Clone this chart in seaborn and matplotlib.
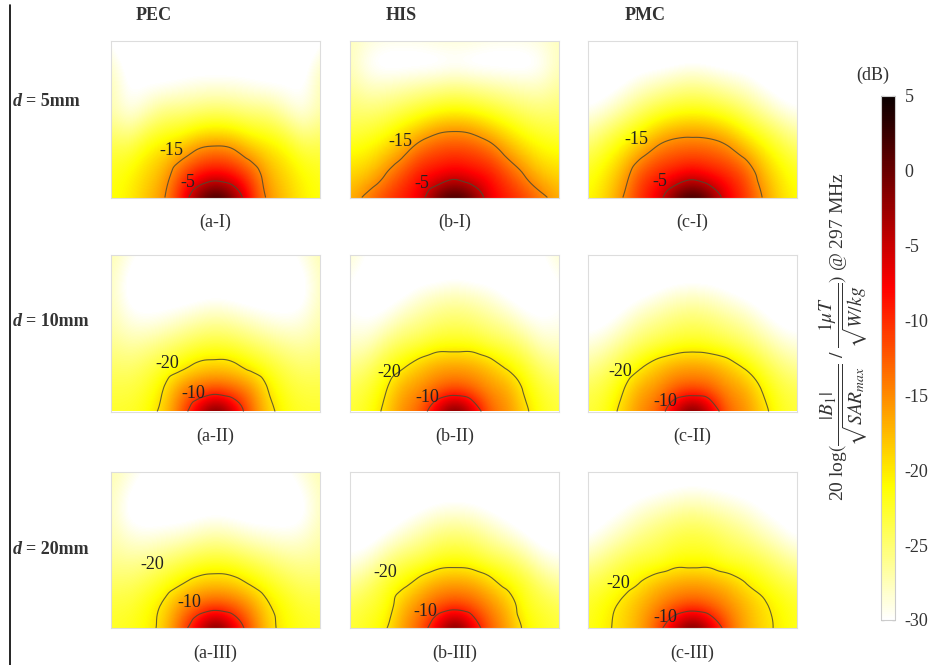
import matplotlib

matplotlib.use('Agg')
import matplotlib.pyplot as plt
import matplotlib.tri as mtri
import numpy as np
import seaborn as sns

# dB maps: 8 rows (top -> bottom) x 7 columns (left edge -> centre),
# the right half mirrors the left half
pec_5 = [
    [-30.0, -32.0, -32.0, -32.0, -32.0, -32.0, -32.0],
    [-28.0, -31.0, -31.0, -31.0, -31.0, -31.0, -31.0],
    [-27.0, -30.5, -30.0, -30.0, -29.5, -29.0, -29.0],
    [-27.0, -29.5, -28.0, -26.0, -26.0, -25.5, -25.0],
    [-25.0, -26.5, -24.0, -22.5, -22.0, -20.5, -20.0],
    [-23.0, -23.0, -20.5, -19.0, -17.0, -14.0, -13.0],
    [-22.0, -21.0, -19.0, -17.0, -11.5, -8.5, -7.3],
    [-21.5, -20.5, -18.0, -15.5, -9.0, -0.5, 4.5],
]
his_5 = [
    [-27.5, -28.5, -29.0, -29.0, -29.0, -28.5, -28.5],
    [-27.5, -30.0, -31.0, -31.0, -31.0, -31.0, -30.5],
    [-26.5, -28.0, -28.0, -27.5, -27.0, -26.5, -26.0],
    [-25.0, -25.5, -25.0, -24.0, -23.0, -22.0, -21.5],
    [-23.5, -23.0, -22.0, -20.0, -18.0, -16.0, -15.3],
    [-21.0, -20.5, -18.5, -16.0, -12.5, -11.0, -10.5],
    [-19.0, -18.0, -15.0, -11.5, -8.5, -8.0, -6.5],
    [-17.0, -14.0, -11.0, -9.0, -7.0, 0.5, 4.0],
]
pmc_5 = [
    [-32.0, -32.0, -32.0, -32.0, -32.0, -32.0, -32.0],
    [-32.0, -32.0, -31.5, -31.0, -31.0, -30.5, -30.0],
    [-31.5, -31.0, -30.0, -28.5, -27.5, -26.5, -26.0],
    [-30.0, -29.0, -27.0, -25.0, -23.5, -22.5, -22.0],
    [-27.0, -25.0, -23.0, -21.0, -18.5, -17.0, -16.5],
    [-24.0, -22.0, -19.5, -16.5, -13.5, -12.3, -12.0],
    [-22.0, -20.0, -17.0, -11.5, -9.5, -8.5, -6.8],
    [-21.0, -19.0, -15.0, -10.0, -7.0, 0.5, 4.5],
]
pec_10 = [
    [-27.0, -29.0, -30.5, -31.0, -31.0, -31.0, -31.0],
    [-27.5, -30.5, -31.5, -31.5, -31.5, -31.5, -31.5],
    [-27.5, -30.5, -31.0, -31.0, -31.0, -30.5, -30.0],
    [-27.0, -29.0, -29.5, -29.0, -28.0, -27.0, -26.5],
    [-26.0, -27.0, -26.5, -25.5, -24.5, -23.5, -23.0],
    [-24.5, -25.0, -24.0, -22.5, -21.0, -19.0, -18.5],
    [-23.5, -23.5, -22.5, -20.0, -15.0, -13.5, -12.5],
    [-22.5, -22.5, -21.5, -18.5, -13.0, -4.8, 2.0],
]
his_10 = [
    [-28.0, -30.0, -31.0, -31.0, -31.0, -31.0, -31.0],
    [-29.5, -31.0, -31.5, -31.5, -31.0, -31.0, -30.5],
    [-30.0, -31.0, -31.0, -30.0, -28.5, -27.5, -27.0],
    [-29.5, -30.0, -29.0, -27.0, -26.0, -25.0, -24.5],
    [-28.0, -28.0, -25.5, -24.0, -23.5, -22.0, -22.0],
    [-26.0, -25.0, -22.5, -20.5, -18.0, -16.5, -16.0],
    [-24.0, -23.0, -20.5, -16.5, -15.5, -13.5, -12.5],
    [-23.0, -22.0, -19.0, -15.0, -13.0, -4.8, 2.0],
]
pmc_10 = [
    [-32.0, -32.0, -32.0, -32.0, -32.0, -32.0, -32.0],
    [-32.0, -32.0, -32.0, -32.0, -31.5, -31.0, -31.0],
    [-32.0, -31.5, -31.0, -30.0, -29.0, -28.0, -27.5],
    [-31.0, -30.5, -29.0, -27.0, -26.0, -25.0, -24.5],
    [-29.0, -28.0, -26.0, -24.5, -23.5, -22.5, -22.0],
    [-26.5, -25.0, -23.0, -20.5, -18.0, -16.5, -16.0],
    [-24.0, -23.0, -20.3, -16.5, -15.5, -13.0, -12.5],
    [-23.0, -22.0, -18.5, -15.0, -13.0, -4.8, 2.0],
]
pec_20 = [
    [-27.0, -28.5, -30.0, -31.0, -31.0, -31.0, -31.0],
    [-27.5, -30.0, -31.5, -31.5, -31.5, -31.5, -31.5],
    [-27.5, -30.5, -31.0, -31.0, -31.0, -30.5, -30.0],
    [-27.0, -28.5, -29.0, -28.5, -28.0, -27.0, -26.5],
    [-26.0, -26.5, -26.0, -25.0, -24.0, -23.0, -22.5],
    [-24.5, -24.5, -23.5, -22.0, -20.3, -18.5, -18.0],
    [-23.0, -23.0, -21.5, -19.5, -15.5, -13.0, -12.0],
    [-22.5, -22.0, -21.0, -18.5, -12.5, -5.4, 2.0],
]
his_20 = [
    [-29.0, -31.0, -32.0, -32.0, -32.0, -32.0, -32.0],
    [-31.0, -32.0, -32.0, -32.0, -31.5, -31.0, -31.0],
    [-31.5, -32.0, -31.5, -30.5, -29.5, -28.5, -28.0],
    [-31.0, -31.0, -29.5, -28.0, -26.5, -25.0, -24.5],
    [-29.5, -28.5, -26.0, -24.0, -23.5, -22.0, -21.5],
    [-26.5, -25.0, -22.5, -21.0, -18.5, -16.5, -16.0],
    [-24.0, -23.0, -22.0, -17.5, -15.0, -12.5, -11.4],
    [-23.0, -22.0, -20.5, -16.0, -12.5, -5.8, 2.0],
]
pmc_20 = [
    [-32.0, -32.0, -32.0, -32.0, -31.5, -31.5, -31.5],
    [-32.0, -31.5, -31.0, -30.5, -30.0, -29.5, -29.0],
    [-31.5, -30.5, -29.5, -28.0, -27.0, -26.0, -25.5],
    [-30.0, -28.5, -27.0, -25.5, -24.5, -23.5, -23.0],
    [-27.0, -25.5, -24.0, -23.0, -23.0, -21.5, -21.5],
    [-24.0, -23.0, -21.5, -19.8, -17.5, -16.5, -16.0],
    [-22.5, -21.0, -19.3, -17.0, -15.0, -13.0, -12.0],
    [-22.0, -20.5, -19.0, -16.5, -12.0, -4.2, 2.0],
]

columns = ['PEC', 'HIS', 'PMC']
rows = ['5mm', '10mm', '20mm']
row_ids = ['I', 'II', 'III']
col_ids = ['a', 'b', 'c']
maps = [[pec_5, his_5, pmc_5], [pec_10, his_10, pmc_10], [pec_20, his_20, pmc_20]]
levels = [[-15, -5], [-20, -10], [-20, -10]]
cbar_ticks = [-30, -25, -20, -15, -10, -5, 0, 5]

# contour label anchors (axes fraction), row by row
label_pos = [
    [[(0.287, 0.301), (0.368, 0.096)], [(0.239, 0.359), (0.344, 0.090)], [(0.230, 0.372), (0.344, 0.103)]],
    [[(0.268, 0.308), (0.392, 0.115)], [(0.187, 0.250), (0.368, 0.090)], [(0.153, 0.256), (0.368, 0.064)]],
    [[(0.196, 0.406), (0.373, 0.162)], [(0.167, 0.354), (0.359, 0.104)], [(0.144, 0.284), (0.368, 0.066)]],
]

sns.set_theme(style='white')
plt.rcParams['font.family'] = ['Liberation Serif', 'DejaVu Serif']
plt.rcParams['mathtext.fontset'] = 'stix'

W, H = 930, 665
fig = plt.figure(figsize=(9.3, 6.65), dpi=100)

col_left = [111, 350, 588]
row_top = [41, 255, 471.7]
pw, ph = 209, 156.5
vmin, vmax = -30, 5

for r in range(3):
    for c in range(3):
        half = np.array(maps[r][c])
        field = np.hstack([half, half[:, -2::-1]])
        ny, nx = field.shape
        dx, dy = 1 / (nx - 1), 1 / (ny - 1)
        ax = fig.add_axes([col_left[c] / W, 1 - (row_top[r] + ph) / H, pw / W, ph / H])
        ax.imshow(field, cmap='hot_r', vmin=vmin, vmax=vmax, aspect='auto', origin='upper',
                  interpolation='bicubic',
                  extent=[-dx / 2, 1 + dx / 2, -dy / 2, 1 + dy / 2])
        gx, gy = np.meshgrid(np.linspace(0, 1, nx), np.linspace(1, 0, ny))
        tri = mtri.Triangulation(gx.ravel(), gy.ravel())
        tri_fine, z_fine = mtri.UniformTriRefiner(tri).refine_field(field.ravel(), subdiv=3)
        ax.tricontour(tri_fine, z_fine, levels=levels[r], colors='#4d4a30', linewidths=0.8,
                      linestyles='solid', alpha=0.85)
        for lev, (lx, ly) in zip(levels[r], label_pos[r][c]):
            ax.text(lx, ly, str(lev), transform=ax.transAxes, ha='center', va='center',
                    fontsize=13, color='#222222')
        ax.set_xlim(0, 1)
        ax.set_ylim(0, 1)
        ax.set_xticks([])
        ax.set_yticks([])
        for sp in ax.spines.values():
            sp.set_color('#dddddd')
            sp.set_linewidth(0.8)
        fig.text((col_left[c] + pw / 2) / W, 1 - (row_top[r] + ph + 25) / H,
                 f'({col_ids[c]}-{row_ids[r]})', ha='center', va='center',
                 fontsize=13, color='#333333')

title_x = [154, 401, 645]
for c, name in enumerate(columns):
    fig.text(title_x[c] / W, 1 - 15 / H, name, ha='center', va='center',
             fontsize=13, fontweight='bold', color='#333333')

row_y = [101, 322, 550]
for r, name in enumerate(rows):
    fig.text(13 / W, 1 - row_y[r] / H, 'd', ha='left', va='center', fontsize=13,
             fontweight='bold', fontstyle='italic', color='#333333')
    fig.text(26 / W, 1 - row_y[r] / H, f'= {name}', ha='left', va='center', fontsize=13,
             fontweight='bold', color='#333333')

fig.add_artist(plt.Line2D([10 / W, 10 / W], [0, 1 - 5 / H], transform=fig.transFigure,
                          color='black', linewidth=1.2))

cax = fig.add_axes([881 / W, 1 - 620 / H, 14 / W, 524 / H])
sm = matplotlib.cm.ScalarMappable(cmap='hot_r', norm=matplotlib.colors.Normalize(vmin, vmax))
cb = fig.colorbar(sm, cax=cax, ticks=cbar_ticks)
cb.outline.set_edgecolor('#cccccc')
cb.outline.set_linewidth(0.8)
cax.tick_params(axis='y', which='both', direction='in', length=2, width=0.8,
                left=True, right=True, labelsize=13, pad=7, colors='#333333')
cax.set_yticklabels([str(t) for t in cbar_ticks])
fig.text(873 / W, 1 - 75 / H, '(dB)', ha='center', va='center', fontsize=13, color='#333333')
fig.text(843 / W, 1 - 337 / H,
         r'20 log$(\dfrac{|B_1|}{\sqrt{SAR_{max}}}\ /\ \dfrac{1\mu T}{\sqrt{W/kg}})$ @ 297 MHz',
         rotation=90, ha='center', va='center', fontsize=14, color='#333333')

fig.savefig('out.png', dpi=100)
plt.close(fig)
